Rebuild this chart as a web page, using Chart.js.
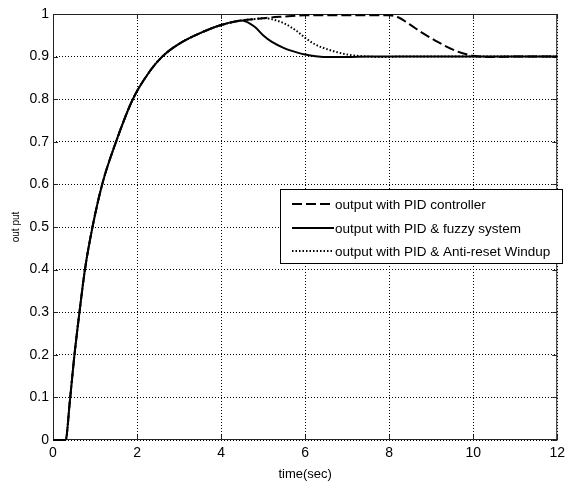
<!DOCTYPE html>
<html>
<head>
<meta charset="utf-8">
<script src="https://cdn.jsdelivr.net/npm/chart.js@4/dist/chart.umd.min.js"></script>
<style>
  html, body { margin: 0; padding: 0; background: #fff; }
  #wrap { width: 570px; height: 481px; }
</style>
</head>
<body>
<div id="wrap"><canvas id="chartStep"></canvas></div>
<script>
// time samples (sec), shared by all three responses
var timeSec = [0, 0.3, 0.4, 0.5, 0.63, 0.76, 0.94, 1.17, 1.5, 1.9, 2.3, 2.6, 3.0, 3.5, 4.0, 4.5,
  4.8, 5.0, 5.2, 5.5, 5.8, 6.0, 6.25, 6.6, 7.0, 7.5, 8.0, 8.2, 8.5, 8.8, 9.2, 9.6, 10.0, 10.5, 11, 12];

var pidOut = [0, 0, 0.09, 0.19, 0.30, 0.40, 0.50, 0.60, 0.70, 0.80, 0.865, 0.90, 0.93, 0.955, 0.974, 0.985,
  0.988, 0.99, 0.992, 0.994, 0.996, 0.997, 0.997, 0.997, 0.997, 0.997, 0.997, 0.993, 0.975, 0.955, 0.932, 0.913, 0.902, 0.899, 0.9, 0.9];

var fuzzyOut = [0, 0, 0.09, 0.19, 0.30, 0.40, 0.50, 0.60, 0.70, 0.80, 0.865, 0.90, 0.93, 0.955, 0.974, 0.985,
  0.97, 0.95, 0.935, 0.92, 0.91, 0.905, 0.901, 0.899, 0.899, 0.9, 0.9, 0.9, 0.9, 0.9, 0.9, 0.9, 0.9, 0.9, 0.9, 0.9];

var antiWindupOut = [0, 0, 0.09, 0.19, 0.30, 0.40, 0.50, 0.60, 0.70, 0.80, 0.865, 0.90, 0.93, 0.955, 0.974, 0.985,
  0.988, 0.99, 0.988, 0.978, 0.96, 0.944, 0.928, 0.915, 0.905, 0.9, 0.899, 0.9, 0.9, 0.9, 0.9, 0.9, 0.9, 0.9, 0.9, 0.9];

var seriesNames = ["output with PID controller", "output with PID & fuzzy system", "output with PID & Anti-reset Windup"];
var seriesDash = [[10, 4], [], [1.5, 2]];

var xTicks = [0, 2, 4, 6, 8, 10, 12];
var yTicks = [0, 0.1, 0.2, 0.3, 0.4, 0.5, 0.6, 0.7, 0.8, 0.9, 1];

var fontName = "'Liberation Sans', Arial, sans-serif";

function toPoints(vals){
  var pts = [];
  for (var i = 0; i < timeSec.length; i++) pts.push({x: timeSec[i], y: vals[i]});
  return pts;
}

function makeSet(i, vals){
  return {
    label: seriesNames[i],
    data: toPoints(vals),
    borderColor: "#000",
    borderWidth: 2,
    borderDash: seriesDash[i],
    pointRadius: 0,
    fill: false,
    clip: 3,
    cubicInterpolationMode: "monotone"
  };
}

// box and inward ticks under the curves, legend on top, matlab-style
var boxPlugin = {
  id: "box",
  beforeDatasetsDraw: function(chart){
    var ctx = chart.ctx, a = chart.chartArea;
    var xs = chart.scales.x, ys = chart.scales.y;
    ctx.save();
    ctx.strokeStyle = "#222";
    ctx.lineWidth = 1;
    ctx.setLineDash([]);
    ctx.strokeRect(a.left + 0.5, a.top + 0.5, a.right - a.left - 1, a.bottom - a.top - 1);
    ctx.beginPath();
    xTicks.forEach(function(v){
      var px = Math.round(xs.getPixelForValue(v)) + 0.5;
      ctx.moveTo(px, a.bottom); ctx.lineTo(px, a.bottom - 5);
      ctx.moveTo(px, a.top); ctx.lineTo(px, a.top + 5);
    });
    yTicks.forEach(function(v){
      var py = Math.round(ys.getPixelForValue(v)) + 0.5;
      ctx.moveTo(a.left, py); ctx.lineTo(a.left + 5, py);
      ctx.moveTo(a.right, py); ctx.lineTo(a.right - 5, py);
    });
    ctx.stroke();
    ctx.restore();
  },
  afterDatasetsDraw: function(chart){
    var ctx = chart.ctx;
    ctx.save();
    var lx = 280, ly = 189, lw = 282, lh = 74;
    ctx.fillStyle = "#fff";
    ctx.fillRect(lx, ly, lw, lh);
    ctx.strokeStyle = "#000";
    ctx.lineWidth = 1;
    ctx.strokeRect(lx + 0.5, ly + 0.5, lw, lh);
    var rows = [204, 228, 251];
    ctx.font = "13.5px " + fontName;
    ctx.textBaseline = "middle";
    for (var i = 0; i < seriesNames.length; i++){
      ctx.beginPath();
      ctx.lineWidth = 2;
      ctx.setLineDash(seriesDash[i]);
      ctx.moveTo(292, rows[i]); ctx.lineTo(334, rows[i]);
      ctx.stroke();
      ctx.setLineDash([]);
      ctx.fillStyle = "#000";
      ctx.fillText(seriesNames[i], 335, rows[i] + 1);
    }
    ctx.restore();
  }
};

var ctxS = document.getElementById("chartStep").getContext("2d");
var stepChart = new Chart(ctxS, {
  type: "line",
  data: {
    datasets: [makeSet(0, pidOut), makeSet(1, fuzzyOut), makeSet(2, antiWindupOut)]
  },
  options: {
    responsive: true,
    maintainAspectRatio: false,
    animation: false,
    layout: { padding: { top: 14, right: 4, left: 0, bottom: 0 } },
    plugins: { legend: { display: false }, tooltip: { enabled: false } },
    scales: {
      x: {
        type: "linear",
        min: 0, max: 12,
        afterFit: function(s){ s.height = 41; },
        afterBuildTicks: function(s){ s.ticks = xTicks.map(function(v){ return {value: v}; }); },
        grid: { color: "#000", lineWidth: 1, drawTicks: false },
        border: { display: false, dash: [1, 2] },
        ticks: { color: "#000", padding: 5, maxRotation: 0, font: { family: fontName, size: 14 } },
        title: { display: true, text: "time(sec)", color: "#000", padding: { top: 0, bottom: 0 },
          font: { family: fontName, size: 13, lineHeight: 1.0 } }
      },
      y: {
        min: 0, max: 1,
        afterFit: function(s){ s.width = 53; },
        afterBuildTicks: function(s){ s.ticks = yTicks.map(function(v){ return {value: v}; }); },
        grid: { color: "#000", lineWidth: 1, drawTicks: false },
        border: { display: false, dash: [1, 2] },
        ticks: { color: "#000", padding: 4, font: { family: fontName, size: 14 },
          callback: function(v){ return String(+v.toFixed(1)); } },
        title: { display: true, text: "out put", color: "#000", padding: { top: 10, bottom: 0 },
          font: { family: fontName, size: 10 } }
      }
    }
  },
  plugins: [boxPlugin]
});
</script>
</body>
</html>
